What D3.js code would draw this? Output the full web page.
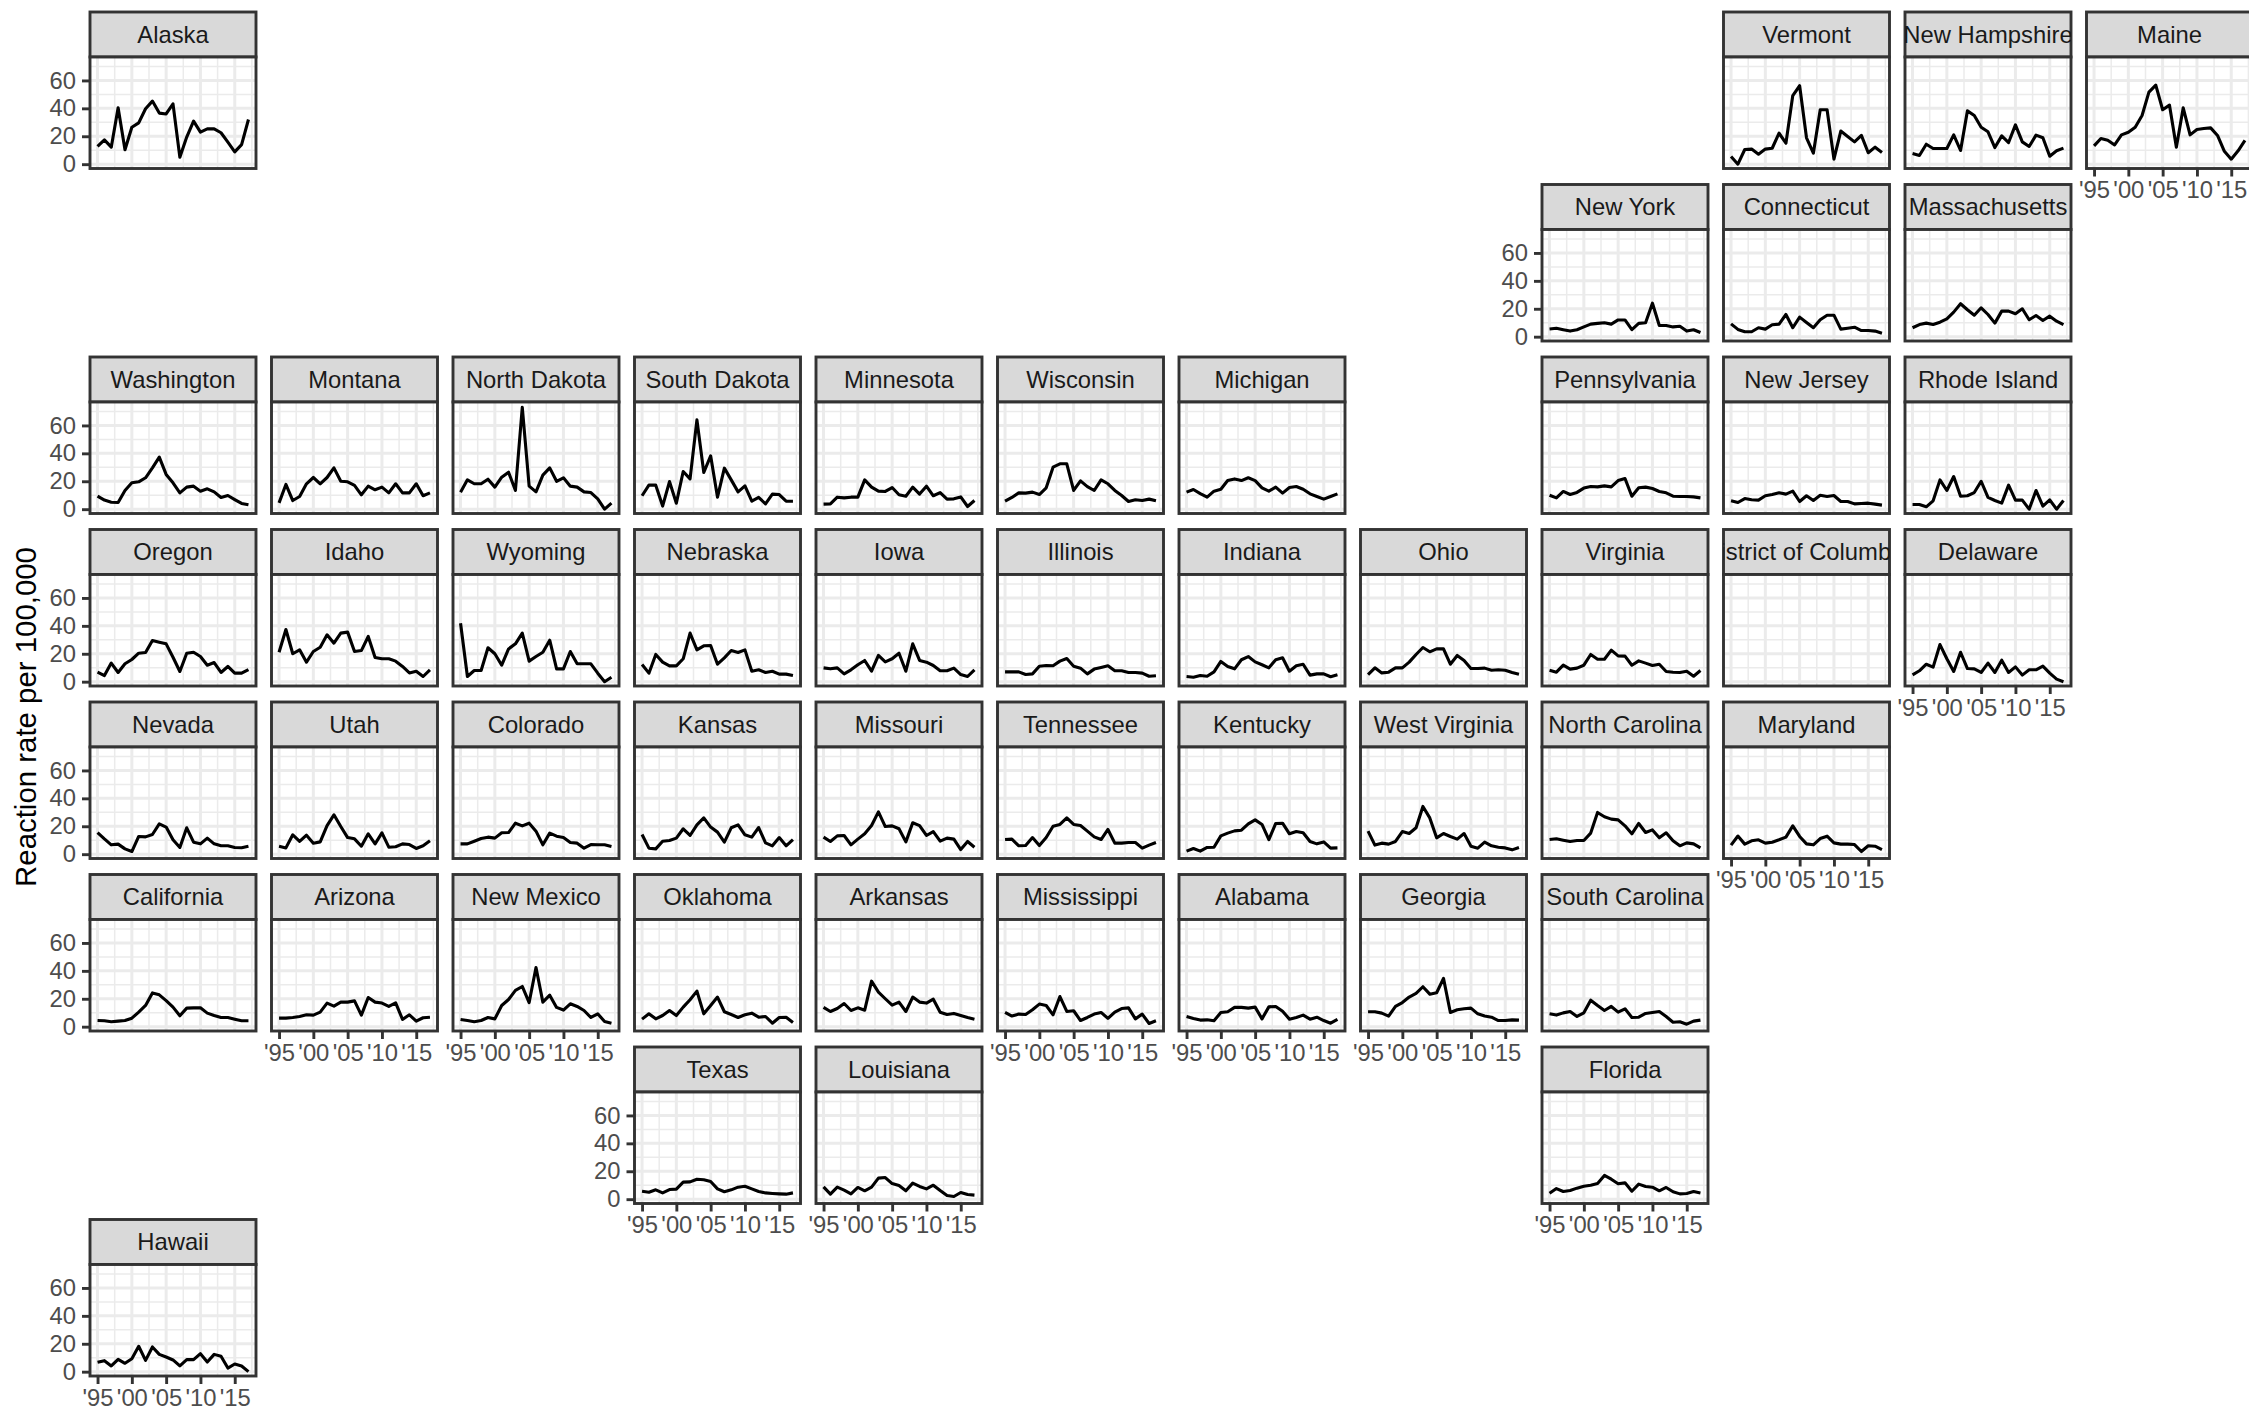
<!DOCTYPE html>
<html lang="en">
<head>
    <meta charset="UTF-8">
    <title>Reaction rate per 100,000 by state</title>
    <script src="https://d3js.org/d3.v7.min.js"></script>
    <style>
        body { margin: 0; background: white; overflow: hidden; }
        text { font-family: "Liberation Sans", Arial, sans-serif; }
        .strip-text { font-size: 23.8px; fill: #1a1a1a; text-anchor: middle; }
        .axis text { font-size: 23.8px; fill: #4d4d4d; }
        .axis line { stroke: #333333; stroke-width: 2.9px; }
        .axis path { display: none; }
        .major { stroke: #ebebeb; stroke-width: 3px; }
        .minor { stroke: #ebebeb; stroke-width: 1.5px; }
        .rate { fill: none; stroke: black; stroke-width: 3.1px; stroke-linejoin: round; }
        .border { fill: none; stroke: #333333; stroke-width: 2.9px; }
        .strip { fill: #d9d9d9; stroke: #333333; stroke-width: 2.9px; }
    </style>
</head>
<body>
<svg width="2249" height="1411"></svg>
<script>
    const years = d3.range(1995, 2018);
    const xTicks = [1995, 2000, 2005, 2010, 2015];
    const xMinor = [1997.5, 2002.5, 2007.5, 2012.5, 2017.5];
    const yTicks = [0, 20, 40, 60];
    const yMinor = [10, 30, 50, 70];

    // state grid, one list per row, null for an empty cell
    const gridRows = [
        ["Alaska", null, null, null, null, null, null, null, null, "Vermont", "New Hampshire", "Maine"],
        [null, null, null, null, null, null, null, null, "New York", "Connecticut", "Massachusetts", null],
        ["Washington", "Montana", "North Dakota", "South Dakota", "Minnesota", "Wisconsin", "Michigan", null, "Pennsylvania", "New Jersey", "Rhode Island", null],
        ["Oregon", "Idaho", "Wyoming", "Nebraska", "Iowa", "Illinois", "Indiana", "Ohio", "Virginia", "District of Columbia", "Delaware", null],
        ["Nevada", "Utah", "Colorado", "Kansas", "Missouri", "Tennessee", "Kentucky", "West Virginia", "North Carolina", "Maryland", null, null],
        ["California", "Arizona", "New Mexico", "Oklahoma", "Arkansas", "Mississippi", "Alabama", "Georgia", "South Carolina", null, null, null],
        [null, null, null, "Texas", "Louisiana", null, null, null, "Florida", null, null, null],
        ["Hawaii", null, null, null, null, null, null, null, null, null, null, null]
    ];
    const xAxisStates = ["Maine", "Delaware", "Maryland", "Arizona", "New Mexico", "Mississippi", "Alabama", "Georgia", "Texas", "Louisiana", "Florida", "Hawaii"];

    const alaska = [12.7, 17.4, 12.2, 40.4, 10.3, 26.5, 29.6, 39.7, 45.2, 36.6, 36, 43.2, 5, 19.4, 30.8, 23, 25.3, 25.3, 22.5, 15.8, 8.8, 14, 32];
    const vermont = [5.5, 0, 10.5, 10.8, 7.2, 10.8, 11.4, 22.2, 15, 49.2, 56.2, 18.9, 7.9, 39, 39, 3.6, 23.7, 19.9, 16, 20.6, 8.2, 12.2, 8.4];
    const newHampshire = [7.6, 6.2, 14.3, 11.2, 11.2, 11.2, 21, 9.8, 38.2, 34.9, 26.5, 23.2, 11.9, 20.3, 15.5, 28.2, 16, 12.7, 20.8, 18.9, 5.7, 9.6, 11.5];
    const maine = [13.1, 18.4, 17.2, 13.8, 21, 22.9, 26.5, 34.9, 51.6, 56.6, 39, 42.3, 12.2, 40.4, 21, 24.9, 25.6, 26, 20.6, 9.2, 3.6, 9.6, 17];
    const newYork = [5.5, 6, 5, 4, 5, 7, 9, 9.5, 10, 9, 12, 12, 5, 9.5, 10, 24, 8, 8, 7, 7.5, 4, 5, 3];
    const connecticut = [9.2, 5.2, 3.5, 3.5, 6.4, 5.4, 8.5, 9, 15.9, 6.4, 14, 10.2, 6.4, 12.1, 15.4, 15.4, 5.4, 6.1, 6.8, 4.4, 4.4, 4, 2.5];
    const massachusetts = [6.4, 8.7, 9.7, 8.7, 10.4, 12.8, 17.6, 23.6, 19.3, 15.4, 20.7, 15.9, 9.7, 18.3, 18.3, 16.4, 20, 12.1, 15.2, 11.6, 14.7, 11.1, 8.7];
    const washington = [9.3, 6.5, 5, 4.8, 13.4, 18.9, 19.6, 22.5, 29.6, 37.3, 24.9, 18.9, 11.7, 15.8, 16.5, 12.9, 14.6, 12.4, 8.4, 9.8, 6.9, 4.1, 3.1];
    const montana = [4.5, 17.7, 6.2, 9.1, 18.2, 22.7, 18.2, 22.7, 29.6, 20, 19.6, 17, 10.3, 16.5, 13.9, 15.8, 11.7, 18.2, 11.7, 11.7, 18.2, 9.6, 11.7];
    const northDakota = [12.2, 21, 18.2, 18.2, 21.5, 15.8, 22.9, 26.5, 13.4, 73, 16.5, 12.4, 24.4, 29.6, 20, 22.5, 16.5, 15.8, 12.4, 11.9, 7.4, 0, 4.3];
    const southDakota = [9.6, 17.2, 17.2, 2.2, 19.8, 4.3, 27, 21.7, 64, 26.3, 38.2, 8.6, 29.4, 21, 12.4, 16.7, 5.7, 8.4, 3.8, 10.8, 10.5, 5.7, 5.7];
    const minnesota = [3.6, 3.8, 8.6, 8.1, 8.6, 8.6, 21, 15.8, 12.9, 12.7, 15.5, 10.3, 9.3, 15.8, 10.8, 16.5, 9.6, 11.9, 7.2, 7.4, 8.8, 1.9, 6.2];
    const wisconsin = [5.7, 8.4, 11.7, 11.5, 12.2, 10.5, 15.3, 30.1, 32.5, 32.5, 13.4, 20.3, 16.2, 13.4, 21, 18.2, 13.4, 9.8, 5.5, 6.7, 6.2, 7.2, 6];
    const michigan = [12.2, 14.1, 11.2, 8.6, 12.9, 14.3, 20.5, 21.7, 20.5, 22.5, 20.5, 15.3, 12.9, 15.8, 11.5, 15.5, 16.2, 14.3, 11, 9.1, 7.2, 9.1, 11];
    const pennsylvania = [10, 8.1, 12.7, 10.5, 12, 15.1, 16.2, 16, 16.7, 16, 20.5, 22, 9.3, 15.3, 15.8, 14.8, 12.7, 11.7, 9.3, 9.1, 9.1, 8.8, 8.1];
    const newJersey = [6, 4.8, 7.6, 6.7, 6.5, 9.6, 10.5, 11.7, 10.8, 12.9, 5.5, 9.6, 6.2, 10, 9.1, 9.8, 5.5, 5.5, 3.8, 4.1, 4.3, 3.6, 2.9];
    const rhodeIsland = [3.3, 3.3, 1.7, 6, 21, 13.4, 23.4, 9.3, 9.6, 11.9, 20, 8.4, 6.2, 4.3, 17.2, 6.5, 6.5, 0, 13.4, 2.2, 6.7, 0, 6.2];
    const oregon = [6.8, 4.4, 13.3, 6.6, 12.8, 15.9, 20.4, 20.9, 29.5, 28.3, 27.1, 17.5, 7.3, 20.4, 21.1, 18, 11.8, 13.7, 6.6, 10.9, 6.1, 6.1, 8.7];
    const idaho = [21.1, 37.4, 20, 22.8, 14, 21.6, 24.7, 33.6, 27.6, 34.8, 35.5, 21.6, 22.3, 32.4, 17.3, 16.4, 16.4, 14.7, 10.9, 6.3, 7.5, 3.7, 8.5];
    const wyoming = [41.9, 3.7, 8, 8, 24.3, 20, 11.8, 23.5, 27.1, 34.8, 14.7, 18, 21.1, 29.7, 9.2, 9.2, 21.6, 12.8, 12.8, 12.8, 6.1, 0, 3.2];
    const nebraska = [12.3, 6.1, 19.5, 14, 11.3, 11.3, 16.4, 34.8, 22.8, 25.7, 25.9, 12.5, 17.1, 22.3, 20.9, 22.8, 7.5, 8.5, 6.6, 7.5, 5.4, 5.4, 4.4];
    const iowa = [9.9, 9.2, 9.9, 5.6, 8.5, 12.1, 15.2, 7.5, 18.8, 14.2, 16.4, 20.4, 7.5, 27.1, 15.2, 14, 11.6, 7.8, 7.8, 9.7, 5.1, 3.7, 8.5];
    const illinois = [7, 7, 7, 5.1, 5.6, 11.1, 11.6, 11.4, 14.7, 16.6, 11.1, 9.7, 5.6, 9, 10.2, 11.4, 7.8, 7.8, 6.6, 6.6, 6.1, 3.9, 4.2];
    const indiana = [3.7, 3.2, 4.4, 3.9, 7, 14.5, 10.9, 9.2, 15.7, 18, 14.2, 12.1, 9.9, 15.7, 17.1, 7.5, 11.4, 12.5, 4.7, 5.6, 5.6, 3.5, 4.9];
    const ohio = [5.1, 9.9, 6.3, 6.8, 9.9, 9.9, 14, 19.5, 24.5, 21.4, 23.5, 23.5, 12.5, 18.8, 15.2, 9.4, 9.4, 9.7, 8.2, 8.5, 8.2, 6.6, 5.4];
    const virginia = [8.2, 6.8, 11.8, 9, 9.7, 11.8, 19.5, 16.1, 16.1, 22.6, 18.5, 18.3, 11.8, 14.9, 13.3, 11.6, 12.5, 7.3, 6.8, 6.6, 7.5, 3.9, 8];
    const districtOfColumbia = []; // panel is empty in the chart
    const delaware = [4.9, 7.8, 12.5, 10.4, 26.6, 16.4, 7.3, 21.1, 9.4, 9.2, 6.6, 13.3, 6.6, 15.4, 6.6, 10.6, 4.7, 8.5, 8.5, 11.1, 6.1, 1.8, 0];
    const nevada = [15.5, 11, 6.7, 7.2, 3.8, 1.9, 12.7, 12.4, 14.1, 21.7, 19.4, 10.3, 4.8, 18.9, 8.6, 7.4, 11.5, 7.4, 6, 6, 4.8, 4.6, 5.7];
    const utah = [5.7, 4.5, 13.9, 9.1, 13.6, 7.9, 8.8, 20.5, 28.2, 19.8, 11.9, 11, 5.7, 14.6, 7.4, 15.3, 5, 5.3, 7.4, 6.9, 4.1, 6, 9.6];
    const colorado = [7.4, 7.4, 9.3, 11.2, 12.2, 11.5, 15.3, 15.5, 22.2, 20.3, 22.2, 16.5, 6.7, 15.1, 12.9, 12, 8.4, 7.9, 4.3, 6.9, 6.7, 6.7, 5.5];
    const kansas = [14.1, 4.3, 3.8, 9.3, 9.8, 11.5, 18.2, 13.4, 21, 26, 19.4, 15.8, 8.6, 18.9, 21, 13.9, 12.2, 19.1, 8.1, 6, 11.9, 6, 10.5];
    const missouri = [12.2, 9.1, 13.1, 13.4, 6.7, 10.8, 14.6, 20.5, 30.3, 19.8, 20.3, 18.2, 8.8, 22.5, 20.5, 13.4, 16.2, 9.3, 11.5, 10.8, 3.3, 9.1, 5];
    const tennessee = [10.5, 10.8, 6, 6.2, 11.9, 6.2, 11.9, 20, 21.3, 26, 21.3, 20.5, 16.5, 12.4, 10.5, 17.7, 7.9, 7.9, 8.4, 8.4, 4.3, 6.5, 8.4];
    const kentucky = [2.2, 4.1, 2.2, 4.8, 5, 13.1, 15.1, 16.7, 17.2, 21.7, 24.6, 21.3, 10.5, 22, 22.2, 14.6, 16.2, 15.3, 9.1, 7.4, 8.8, 4.3, 4.5];
    const westVirginia = [16.5, 6.5, 7.9, 7.2, 9.1, 16.2, 14.8, 18.9, 34.2, 26, 11.7, 14.8, 12.7, 10.8, 14.8, 5.7, 4.3, 8.6, 6, 5, 4.5, 3.1, 4.8];
    const northCarolina = [10.5, 11, 10, 9.1, 9.8, 9.8, 15.1, 29.9, 26.8, 25.1, 24.6, 20.3, 14.6, 22, 15.5, 17.4, 11.7, 15.3, 9.6, 6, 8.1, 7.4, 4.5];
    const maryland = [6.5, 13, 7.2, 9.6, 10.3, 7.9, 8.6, 10.3, 12.2, 20.3, 12.7, 7.4, 6.7, 11.2, 12.9, 8.1, 7.2, 7.2, 6.9, 1.9, 6, 5.7, 3.3];
    const california = [4.4, 4.2, 3.5, 4, 4.4, 6.1, 10.4, 15.2, 24.2, 22.8, 18.7, 14, 7.8, 13.3, 13.5, 13.5, 9.7, 8, 6.6, 6.6, 5.4, 4.2, 4.2];
    const arizona = [6.1, 6.1, 6.6, 7.3, 8.5, 8.3, 10.4, 16.9, 14.7, 17.6, 17.6, 18.5, 8.3, 20.9, 17.6, 16.9, 14.5, 17.1, 5.2, 8.5, 4, 6.4, 6.8];
    const newMexico = [5.2, 4.4, 3.5, 4.4, 6.6, 5.6, 15.2, 19.5, 26, 28.8, 17.3, 42.4, 17.6, 22.6, 13.8, 11.9, 16.4, 14.5, 11.6, 6.6, 9.2, 3.7, 2.5];
    const oklahoma = [5.4, 9.2, 5.6, 8, 11.6, 8, 14, 19.3, 25.5, 9.2, 15.2, 21.2, 10.7, 8.7, 6.6, 8.5, 9.7, 6.8, 7.3, 2.5, 6.6, 6.8, 3];
    const arkansas = [13.8, 10.9, 13, 16.6, 11.6, 13.5, 11.8, 32.6, 24.8, 20, 15.4, 17.6, 10.9, 21.2, 17.6, 16.9, 19.7, 10.4, 8.7, 9.5, 8, 6.6, 5.4];
    const mississippi = [10.2, 7.6, 9, 8.7, 12.1, 16.2, 15.2, 8.5, 21.6, 10.9, 11.4, 4.4, 6.6, 9, 10.2, 5.9, 10.4, 13, 13.5, 5.6, 9, 2.3, 4.2];
    const alabama = [7.3, 5.9, 4.7, 4.9, 4.2, 10.2, 10.7, 13.8, 13.8, 13.3, 14, 5.6, 14.2, 14.5, 11.1, 5.4, 6.6, 8.3, 5.4, 6.8, 4.4, 2.5, 5.2];
    const georgia = [10.7, 10.7, 9.7, 7.6, 14.5, 17.3, 21.2, 23.8, 28.6, 23.3, 24.3, 34.6, 10.2, 12.1, 12.8, 13.3, 9.2, 7.6, 6.8, 4.4, 4.4, 4.9, 4.7];
    const southCarolina = [9.2, 8.3, 9.9, 10.9, 7.3, 9.9, 19, 15.2, 11.6, 14.5, 10.4, 12.8, 6.6, 6.8, 9.5, 10.2, 10.9, 7.3, 3.2, 3.5, 1.8, 4, 4.7];
    const texas = [5.7, 5, 6.7, 4.5, 6.9, 7.2, 12.2, 12.4, 14.3, 13.9, 12.7, 7.4, 5.3, 6.7, 8.6, 9.3, 7.4, 5.5, 4.5, 4.1, 3.8, 3.6, 4.5];
    const louisiana = [8.8, 3.6, 8.6, 6.5, 3.8, 8.4, 6, 8.6, 15.1, 15.5, 11.2, 9.8, 6, 11.5, 9.1, 7.4, 10, 6.2, 2.6, 1.9, 4.8, 3.3, 2.9];
    const florida = [4.3, 7.6, 5.5, 6.2, 7.9, 9.3, 10, 11.2, 17, 14.3, 11, 11.7, 5.7, 10.8, 9.1, 8.6, 6, 8.4, 5.3, 3.8, 4.1, 5.5, 4.5];
    const hawaii = [6.7, 7.9, 4.1, 8.8, 6, 9.3, 18.2, 8.1, 17.7, 12.4, 10.5, 8.4, 4.1, 8.6, 8.6, 12.9, 6.9, 12.4, 11, 2.6, 5.5, 4.1, 0];

    const seriesByState = new Map([
        ["Alaska", alaska], ["Vermont", vermont], ["New Hampshire", newHampshire], ["Maine", maine],
        ["New York", newYork], ["Connecticut", connecticut], ["Massachusetts", massachusetts],
        ["Washington", washington], ["Montana", montana], ["North Dakota", northDakota], ["South Dakota", southDakota],
        ["Minnesota", minnesota], ["Wisconsin", wisconsin], ["Michigan", michigan], ["Pennsylvania", pennsylvania],
        ["New Jersey", newJersey], ["Rhode Island", rhodeIsland], ["Oregon", oregon], ["Idaho", idaho],
        ["Wyoming", wyoming], ["Nebraska", nebraska], ["Iowa", iowa], ["Illinois", illinois], ["Indiana", indiana],
        ["Ohio", ohio], ["Virginia", virginia], ["District of Columbia", districtOfColumbia], ["Delaware", delaware],
        ["Nevada", nevada], ["Utah", utah], ["Colorado", colorado], ["Kansas", kansas], ["Missouri", missouri],
        ["Tennessee", tennessee], ["Kentucky", kentucky], ["West Virginia", westVirginia],
        ["North Carolina", northCarolina], ["Maryland", maryland], ["California", california], ["Arizona", arizona],
        ["New Mexico", newMexico], ["Oklahoma", oklahoma], ["Arkansas", arkansas], ["Mississippi", mississippi],
        ["Alabama", alabama], ["Georgia", georgia], ["South Carolina", southCarolina], ["Texas", texas],
        ["Louisiana", louisiana], ["Florida", florida], ["Hawaii", hawaii]
    ]);

    const left = 90;
    const top_ = 12;
    const colStep = 181.5;
    const rowStep = 172.5;
    const panelW = 166;
    const stripH = 45;
    const panelH = 111.5;

    const x = d3.scaleLinear().domain([1995 - 1.1, 2017 + 1.1]).range([0, panelW]);
    const y = d3.scaleLinear().domain([-3.1, 76.8]).range([panelH, 0]);
    const line = d3.line().x((d, i) => x(years[i])).y(d => y(d));

    const svg = d3.select("svg");

    svg.append("text")
        .attr("transform", "translate(35.5,717) rotate(-90)")
        .attr("text-anchor", "middle")
        .attr("font-size", 29.4)
        .attr("fill", "black")
        .text("Reaction rate per 100,000");

    gridRows.forEach((row, r) => {
        let firstInRow = true;
        row.forEach((state, c) => {
            if (!state) return;
            const g = svg.append("g")
                .attr("transform", `translate(${left + c * colStep},${top_ + r * rowStep})`);

            // strip, with the label cut off at the box
            const clipId = "clip-" + r + "-" + c;
            g.append("clipPath").attr("id", clipId)
                .append("rect").attr("width", panelW).attr("height", stripH);
            g.append("rect").attr("class", "strip").attr("width", panelW).attr("height", stripH);
            g.append("g").attr("clip-path", `url(#${clipId})`)
                .append("text").attr("class", "strip-text")
                .attr("x", panelW / 2).attr("y", stripH / 2).attr("dy", "0.35em")
                .text(state);

            const p = g.append("g").attr("transform", `translate(0,${stripH})`);
            p.append("rect").attr("width", panelW).attr("height", panelH).attr("fill", "white");

            p.selectAll(".vminor").data(xMinor).join("line").attr("class", "minor")
                .attr("x1", d => x(d)).attr("x2", d => x(d)).attr("y1", 0).attr("y2", panelH);
            p.selectAll(".hminor").data(yMinor).join("line").attr("class", "minor hminor")
                .attr("y1", d => y(d)).attr("y2", d => y(d)).attr("x1", 0).attr("x2", panelW);
            p.selectAll(".vmajor").data(xTicks).join("line").attr("class", "major vmajor")
                .attr("x1", d => x(d)).attr("x2", d => x(d)).attr("y1", 0).attr("y2", panelH);
            p.selectAll(".hmajor").data(yTicks).join("line").attr("class", "major hmajor")
                .attr("y1", d => y(d)).attr("y2", d => y(d)).attr("x1", 0).attr("x2", panelW);

            const values = seriesByState.get(state);
            if (values.length) {
                p.append("path").datum(values).attr("class", "rate").attr("d", line);
            }
            p.append("rect").attr("class", "border").attr("width", panelW).attr("height", panelH);

            if (firstInRow) {
                p.append("g").attr("class", "axis")
                    .call(d3.axisLeft(y).tickValues(yTicks).tickSize(8).tickPadding(6));
                firstInRow = false;
            }
            if (xAxisStates.includes(state)) {
                p.append("g").attr("class", "axis")
                    .attr("transform", `translate(0,${panelH})`)
                    .call(d3.axisBottom(x).tickValues(xTicks).tickSize(8).tickPadding(5)
                        .tickFormat(d => "'" + String(d).slice(2)));
            }
        });
    });
</script>
</body>
</html>
